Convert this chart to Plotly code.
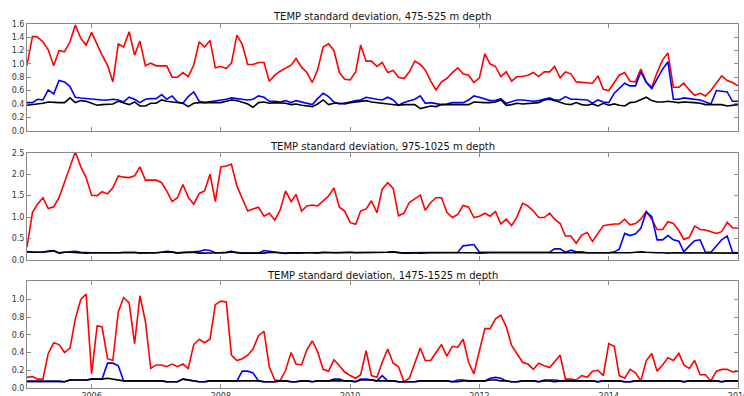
import pandas as pd
import plotly.graph_objects as go

dates = pd.date_range("2005-01-01", periods=133, freq="MS")

titles = ["TEMP standard deviation, 475-525 m depth",
          "TEMP standard deviation, 975-1025 m depth",
          "TEMP standard deviation, 1475-1525 m depth"]

red1 = [0.98,1.41,1.40,1.33,1.21,0.97,1.20,1.18,1.33,1.58,
        1.38,1.28,1.47,1.28,1.13,0.98,0.73,1.30,1.25,1.48,
        1.13,1.34,0.97,1.01,0.97,0.97,0.97,0.80,0.80,0.87,
        0.81,0.98,1.33,1.25,1.35,0.94,0.96,0.93,1.01,1.43,
        1.29,0.99,0.99,1.02,1.02,0.74,0.83,0.89,0.93,0.98,
        1.08,0.95,0.87,0.72,0.91,1.25,1.30,1.20,0.87,0.77,
        0.76,0.88,1.28,1.04,1.04,0.96,
        1.02,0.87,0.90,0.80,0.78,0.88,1.04,0.99,0.91,0.74,
        0.61,0.73,0.78,0.87,0.94,0.85,0.83,0.72,0.79,1.15,
        1.00,0.96,0.81,0.88,0.74,0.81,0.81,0.83,0.87,0.81,
        0.88,0.88,0.96,0.79,0.88,0.85,0.73,0.72,0.71,0.71,
        0.82,0.62,0.60,0.73,0.83,0.87,0.74,0.73,0.92,0.73,
        0.65,0.87,1.06,1.16,0.65,0.65,0.71,0.61,0.53,0.56,
        0.52,0.60,0.72,0.82,0.75,0.72,0.67]

blue1 = [0.42,0.42,0.47,0.46,0.61,0.55,0.75,0.73,0.66,0.50,
         0.49,0.48,0.47,0.46,0.46,0.46,0.47,0.46,0.43,0.50,
         0.47,0.42,0.47,0.48,0.48,0.54,0.47,0.52,0.43,0.41,
         0.51,0.58,0.44,0.42,0.43,0.44,0.46,0.47,0.49,0.48,
         0.47,0.46,0.47,0.52,0.50,0.44,0.44,0.43,0.45,0.42,
         0.45,0.43,0.41,0.39,0.48,0.56,0.51,0.43,0.40,0.41,
         0.43,0.45,0.46,0.50,0.48,0.47,
         0.46,0.50,0.46,0.38,0.42,0.44,0.47,0.52,0.41,0.42,
         0.41,0.39,0.40,0.42,0.42,0.42,0.46,0.52,0.50,0.47,
         0.45,0.45,0.48,0.41,0.44,0.46,0.46,0.45,0.44,0.45,
         0.47,0.49,0.46,0.46,0.51,0.47,0.47,0.47,0.46,0.41,
         0.46,0.43,0.42,0.56,0.63,0.71,0.67,0.67,0.88,0.72,
         0.63,0.78,0.92,1.03,0.47,0.47,0.49,0.48,0.47,0.46,
         0.43,0.40,0.60,0.59,0.58,0.44,0.44]

black1 = [0.38,0.39,0.41,0.41,0.43,0.42,0.42,0.42,0.49,0.42,
          0.45,0.44,0.41,0.38,0.39,0.39,0.40,0.44,0.41,0.39,
          0.43,0.37,0.37,0.41,0.41,0.46,0.44,0.43,0.43,0.41,
          0.36,0.41,0.42,0.42,0.41,0.41,0.42,0.44,0.46,0.45,
          0.42,0.40,0.35,0.42,0.43,0.41,0.42,0.42,0.41,0.39,
          0.40,0.38,0.37,0.36,0.40,0.46,0.39,0.41,0.41,0.40,
          0.42,0.43,0.44,0.45,0.43,0.42,
          0.40,0.39,0.39,0.38,0.39,0.39,0.39,0.33,0.35,0.37,
          0.36,0.39,0.39,0.39,0.39,0.39,0.39,0.43,0.42,0.42,
          0.42,0.43,0.46,0.38,0.39,0.41,0.40,0.41,0.42,0.42,
          0.46,0.47,0.45,0.42,0.40,0.39,0.42,0.39,0.38,0.40,
          0.37,0.41,0.38,0.40,0.38,0.37,0.42,0.43,0.46,0.50,
          0.45,0.43,0.43,0.44,0.43,0.42,0.43,0.43,0.42,0.41,
          0.39,0.39,0.39,0.39,0.37,0.38,0.39]

red2 = [0.30,1.11,1.30,1.45,1.20,1.24,1.45,1.82,2.14,2.52,
        2.17,1.92,1.51,1.50,1.59,1.54,1.68,1.96,1.93,1.92,
        1.96,2.17,1.86,1.86,1.86,1.80,1.61,1.36,1.45,1.76,
        1.46,1.30,1.55,1.61,2.00,1.36,2.17,2.19,2.23,1.72,
        1.42,1.14,1.19,1.23,1.02,1.09,0.93,1.16,1.61,1.36,
        1.53,1.14,1.26,1.28,1.26,1.38,1.49,1.68,1.23,1.14,
        0.87,0.83,1.14,1.19,1.38,1.10,
        1.65,1.80,1.67,1.03,1.09,1.34,1.42,1.51,1.16,1.34,
        1.45,1.45,1.11,0.99,1.06,1.27,1.23,0.99,1.02,1.09,
        1.02,1.13,0.84,0.95,0.80,1.01,1.32,1.26,1.14,0.99,
        0.99,1.09,0.95,0.85,0.56,0.56,0.39,0.58,0.64,0.43,
        0.62,0.80,0.82,0.84,0.84,0.95,0.82,0.85,0.95,1.13,
        0.95,0.71,0.71,0.89,0.85,0.68,0.48,0.53,0.79,0.71,
        0.70,0.66,0.62,0.66,0.88,0.75,0.74]

blue2 = [0.19,0.18,0.18,0.18,0.20,0.21,0.17,0.18,0.19,0.20,
         0.18,0.17,0.17,0.17,0.17,0.16,0.16,0.17,0.18,0.18,
         0.18,0.16,0.16,0.17,0.17,0.18,0.20,0.19,0.17,0.18,
         0.18,0.19,0.20,0.24,0.22,0.17,0.17,0.17,0.19,0.17,
         0.16,0.16,0.16,0.16,0.22,0.20,0.18,0.17,0.16,0.17,
         0.17,0.17,0.17,0.17,0.17,0.18,0.17,0.18,0.18,0.18,
         0.18,0.18,0.18,0.18,0.18,0.18,
         0.18,0.18,0.19,0.17,0.17,0.17,0.17,0.17,0.17,0.18,
         0.17,0.18,0.17,0.18,0.18,0.33,0.35,0.36,0.18,0.18,
         0.18,0.17,0.17,0.17,0.17,0.17,0.17,0.17,0.17,0.17,
         0.18,0.18,0.26,0.26,0.18,0.23,0.19,0.19,0.17,0.17,
         0.17,0.17,0.17,0.19,0.25,0.62,0.57,0.61,0.74,1.12,
         1.01,0.47,0.47,0.57,0.47,0.44,0.19,0.33,0.45,0.47,
         0.18,0.18,0.33,0.47,0.56,0.18,0.17]

black2 = [0.20,0.18,0.18,0.18,0.21,0.22,0.16,0.18,0.18,0.17,
          0.17,0.16,0.17,0.17,0.16,0.16,0.16,0.16,0.17,0.17,
          0.17,0.16,0.16,0.17,0.17,0.18,0.19,0.18,0.16,0.17,
          0.18,0.18,0.16,0.16,0.17,0.17,0.17,0.18,0.20,0.17,
          0.16,0.16,0.16,0.16,0.16,0.18,0.18,0.17,0.15,0.17,
          0.16,0.17,0.17,0.17,0.16,0.18,0.17,0.17,0.17,0.18,
          0.18,0.17,0.17,0.17,0.17,0.17,
          0.17,0.18,0.19,0.17,0.16,0.16,0.17,0.16,0.17,0.17,
          0.17,0.17,0.17,0.17,0.17,0.17,0.18,0.17,0.16,0.17,
          0.17,0.17,0.17,0.16,0.17,0.17,0.17,0.17,0.17,0.17,
          0.17,0.17,0.17,0.17,0.16,0.17,0.17,0.17,0.16,0.17,
          0.17,0.17,0.17,0.17,0.17,0.17,0.17,0.18,0.19,0.18,
          0.17,0.17,0.17,0.16,0.17,0.17,0.17,0.17,0.16,0.17,
          0.17,0.17,0.17,0.17,0.16,0.16,0.16]

red3 = [0.12,0.13,0.10,0.10,0.39,0.51,0.49,0.40,0.45,0.78,
        1.00,1.06,0.16,0.70,0.69,0.33,0.31,0.86,1.02,0.96,
        0.50,1.04,0.75,0.22,0.26,0.26,0.24,0.27,0.24,0.27,
        0.22,0.49,0.55,0.51,0.55,0.94,0.98,0.97,0.37,0.31,
        0.33,0.37,0.44,0.59,0.64,0.24,0.09,0.08,0.20,0.40,
        0.27,0.26,0.43,0.53,0.41,0.21,0.19,0.32,0.25,0.18,
        0.14,0.11,0.15,0.42,0.14,0.12,
        0.29,0.44,0.28,0.24,0.07,0.11,0.28,0.45,0.31,0.31,
        0.40,0.49,0.36,0.47,0.46,0.55,0.29,0.16,0.42,0.67,
        0.67,0.78,0.82,0.69,0.48,0.38,0.29,0.27,0.21,0.28,
        0.25,0.23,0.30,0.37,0.10,0.10,0.09,0.14,0.12,0.19,
        0.20,0.14,0.50,0.47,0.14,0.11,0.21,0.17,0.08,0.31,
        0.39,0.19,0.26,0.34,0.31,0.39,0.26,0.22,0.31,0.15,
        0.15,0.08,0.19,0.21,0.21,0.18,0.19]

blue3 = [0.075,0.075,0.075,0.075,0.075,0.08,0.075,0.07,0.09,0.09,
         0.09,0.09,0.10,0.10,0.10,0.28,0.28,0.25,0.08,0.08,
         0.08,0.08,0.08,0.08,0.08,0.08,0.07,0.07,0.07,0.10,
         0.09,0.08,0.07,0.07,0.08,0.08,0.08,0.08,0.08,0.08,
         0.19,0.19,0.17,0.08,0.07,0.07,0.07,0.08,0.08,0.07,
         0.07,0.08,0.08,0.07,0.08,0.08,0.08,0.10,0.10,0.08,
         0.08,0.07,0.10,0.10,0.09,0.08,
         0.14,0.08,0.08,0.07,0.07,0.07,0.07,0.08,0.08,0.08,
         0.08,0.08,0.08,0.07,0.09,0.09,0.08,0.08,0.08,0.08,
         0.11,0.12,0.11,0.08,0.07,0.07,0.08,0.08,0.08,0.07,
         0.09,0.09,0.09,0.08,0.08,0.08,0.08,0.08,0.08,0.08,
         0.07,0.08,0.08,0.08,0.08,0.07,0.07,0.08,0.08,0.08,
         0.08,0.08,0.08,0.08,0.08,0.08,0.07,0.08,0.08,0.08,
         0.08,0.08,0.08,0.07,0.08,0.08,0.08]

black3 = [0.075,0.075,0.075,0.075,0.075,0.08,0.075,0.07,0.09,0.09,
          0.09,0.09,0.10,0.10,0.10,0.11,0.10,0.09,0.08,0.08,
          0.08,0.08,0.08,0.08,0.08,0.08,0.07,0.07,0.07,0.10,
          0.09,0.08,0.07,0.07,0.08,0.08,0.08,0.08,0.08,0.08,
          0.08,0.08,0.08,0.08,0.07,0.07,0.07,0.08,0.08,0.07,
          0.07,0.08,0.08,0.07,0.08,0.08,0.08,0.08,0.08,0.08,
          0.08,0.07,0.09,0.09,0.09,0.08,
          0.08,0.08,0.08,0.07,0.07,0.07,0.07,0.08,0.08,0.08,
          0.08,0.08,0.08,0.07,0.07,0.08,0.08,0.08,0.08,0.08,
          0.09,0.09,0.08,0.08,0.07,0.07,0.08,0.08,0.08,0.07,
          0.08,0.08,0.07,0.08,0.08,0.08,0.08,0.08,0.08,0.08,
          0.07,0.08,0.08,0.08,0.08,0.07,0.07,0.08,0.08,0.08,
          0.08,0.08,0.08,0.08,0.08,0.08,0.07,0.08,0.08,0.08,
          0.08,0.08,0.08,0.07,0.08,0.08,0.08]

panels = [(red1, blue1, black1), (red2, blue2, black2), (red3, blue3, black3)]
yranges = [[0, 1.6], [0, 2.5], [0, 1.21]]
ytickvals = [[0, 0.2, 0.4, 0.6, 0.8, 1.0, 1.2, 1.4, 1.6],
             [0, 0.5, 1.0, 1.5, 2.0, 2.5],
             [0, 0.2, 0.4, 0.6, 0.8, 1.0]]
xtickvals = ["2006-01-01", "2008-01-01", "2010-01-01", "2012-01-01", "2014-01-01", "2016-01-01"]
xticktext = ["2006", "2008", "2010", "2012", "2014", "2016"]

fig = go.Figure()
H = 388.0
doms = [(1 - 130.7 / H, 1 - 23.7 / H), (1 - 260.0 / H, 1 - 152.7 / H), (0.0, 1 - 280.7 / H)]
title_px = [17, 146, 275.5]
colors = ["#ff0000", "#0000ff", "#000000"]

for i, series in enumerate(panels):
    xa = "x" if i == 0 else f"x{i+1}"
    ya = "y" if i == 0 else f"y{i+1}"
    for s, c in zip(series, colors):
        fig.add_trace(go.Scatter(x=dates, y=s, mode="lines", line=dict(color=c, width=1.6),
                                 xaxis=xa, yaxis=ya, showlegend=False, hoverinfo="skip"))
    axis_common = dict(showline=True, linecolor="#8a8a8a", linewidth=1, mirror="ticks",
                       ticks="inside", ticklen=4, tickcolor="#8a8a8a", showgrid=False,
                       zeroline=False, tickfont=dict(family="DejaVu Sans", size=8, color="#333333"))
    fig.layout[("xaxis" if i == 0 else f"xaxis{i+1}")] = dict(
        axis_common, domain=[0, 1], anchor=ya, range=["2005-01-01", "2016-01-01 02:00"],
        tickvals=xtickvals, ticktext=xticktext, showticklabels=(i == 2), automargin=False,
        ticklabeloverflow="allow")
    fig.layout[("yaxis" if i == 0 else f"yaxis{i+1}")] = dict(
        axis_common, domain=list(doms[i]), anchor=xa, range=yranges[i],
        tickvals=ytickvals[i], tickformat=".1f", automargin=False)
    fig.add_annotation(text=titles[i], xref="paper", yref="paper", x=0.5, y=1 - title_px[i] / H,
                       xanchor="center", yanchor="middle", showarrow=False,
                       font=dict(family="DejaVu Sans", size=10, color="#111111"))

fig.update_layout(width=744, height=396, margin=dict(l=27, r=6, t=0, b=8),
                  paper_bgcolor="white", plot_bgcolor="white")
fig.write_html("out.html")
